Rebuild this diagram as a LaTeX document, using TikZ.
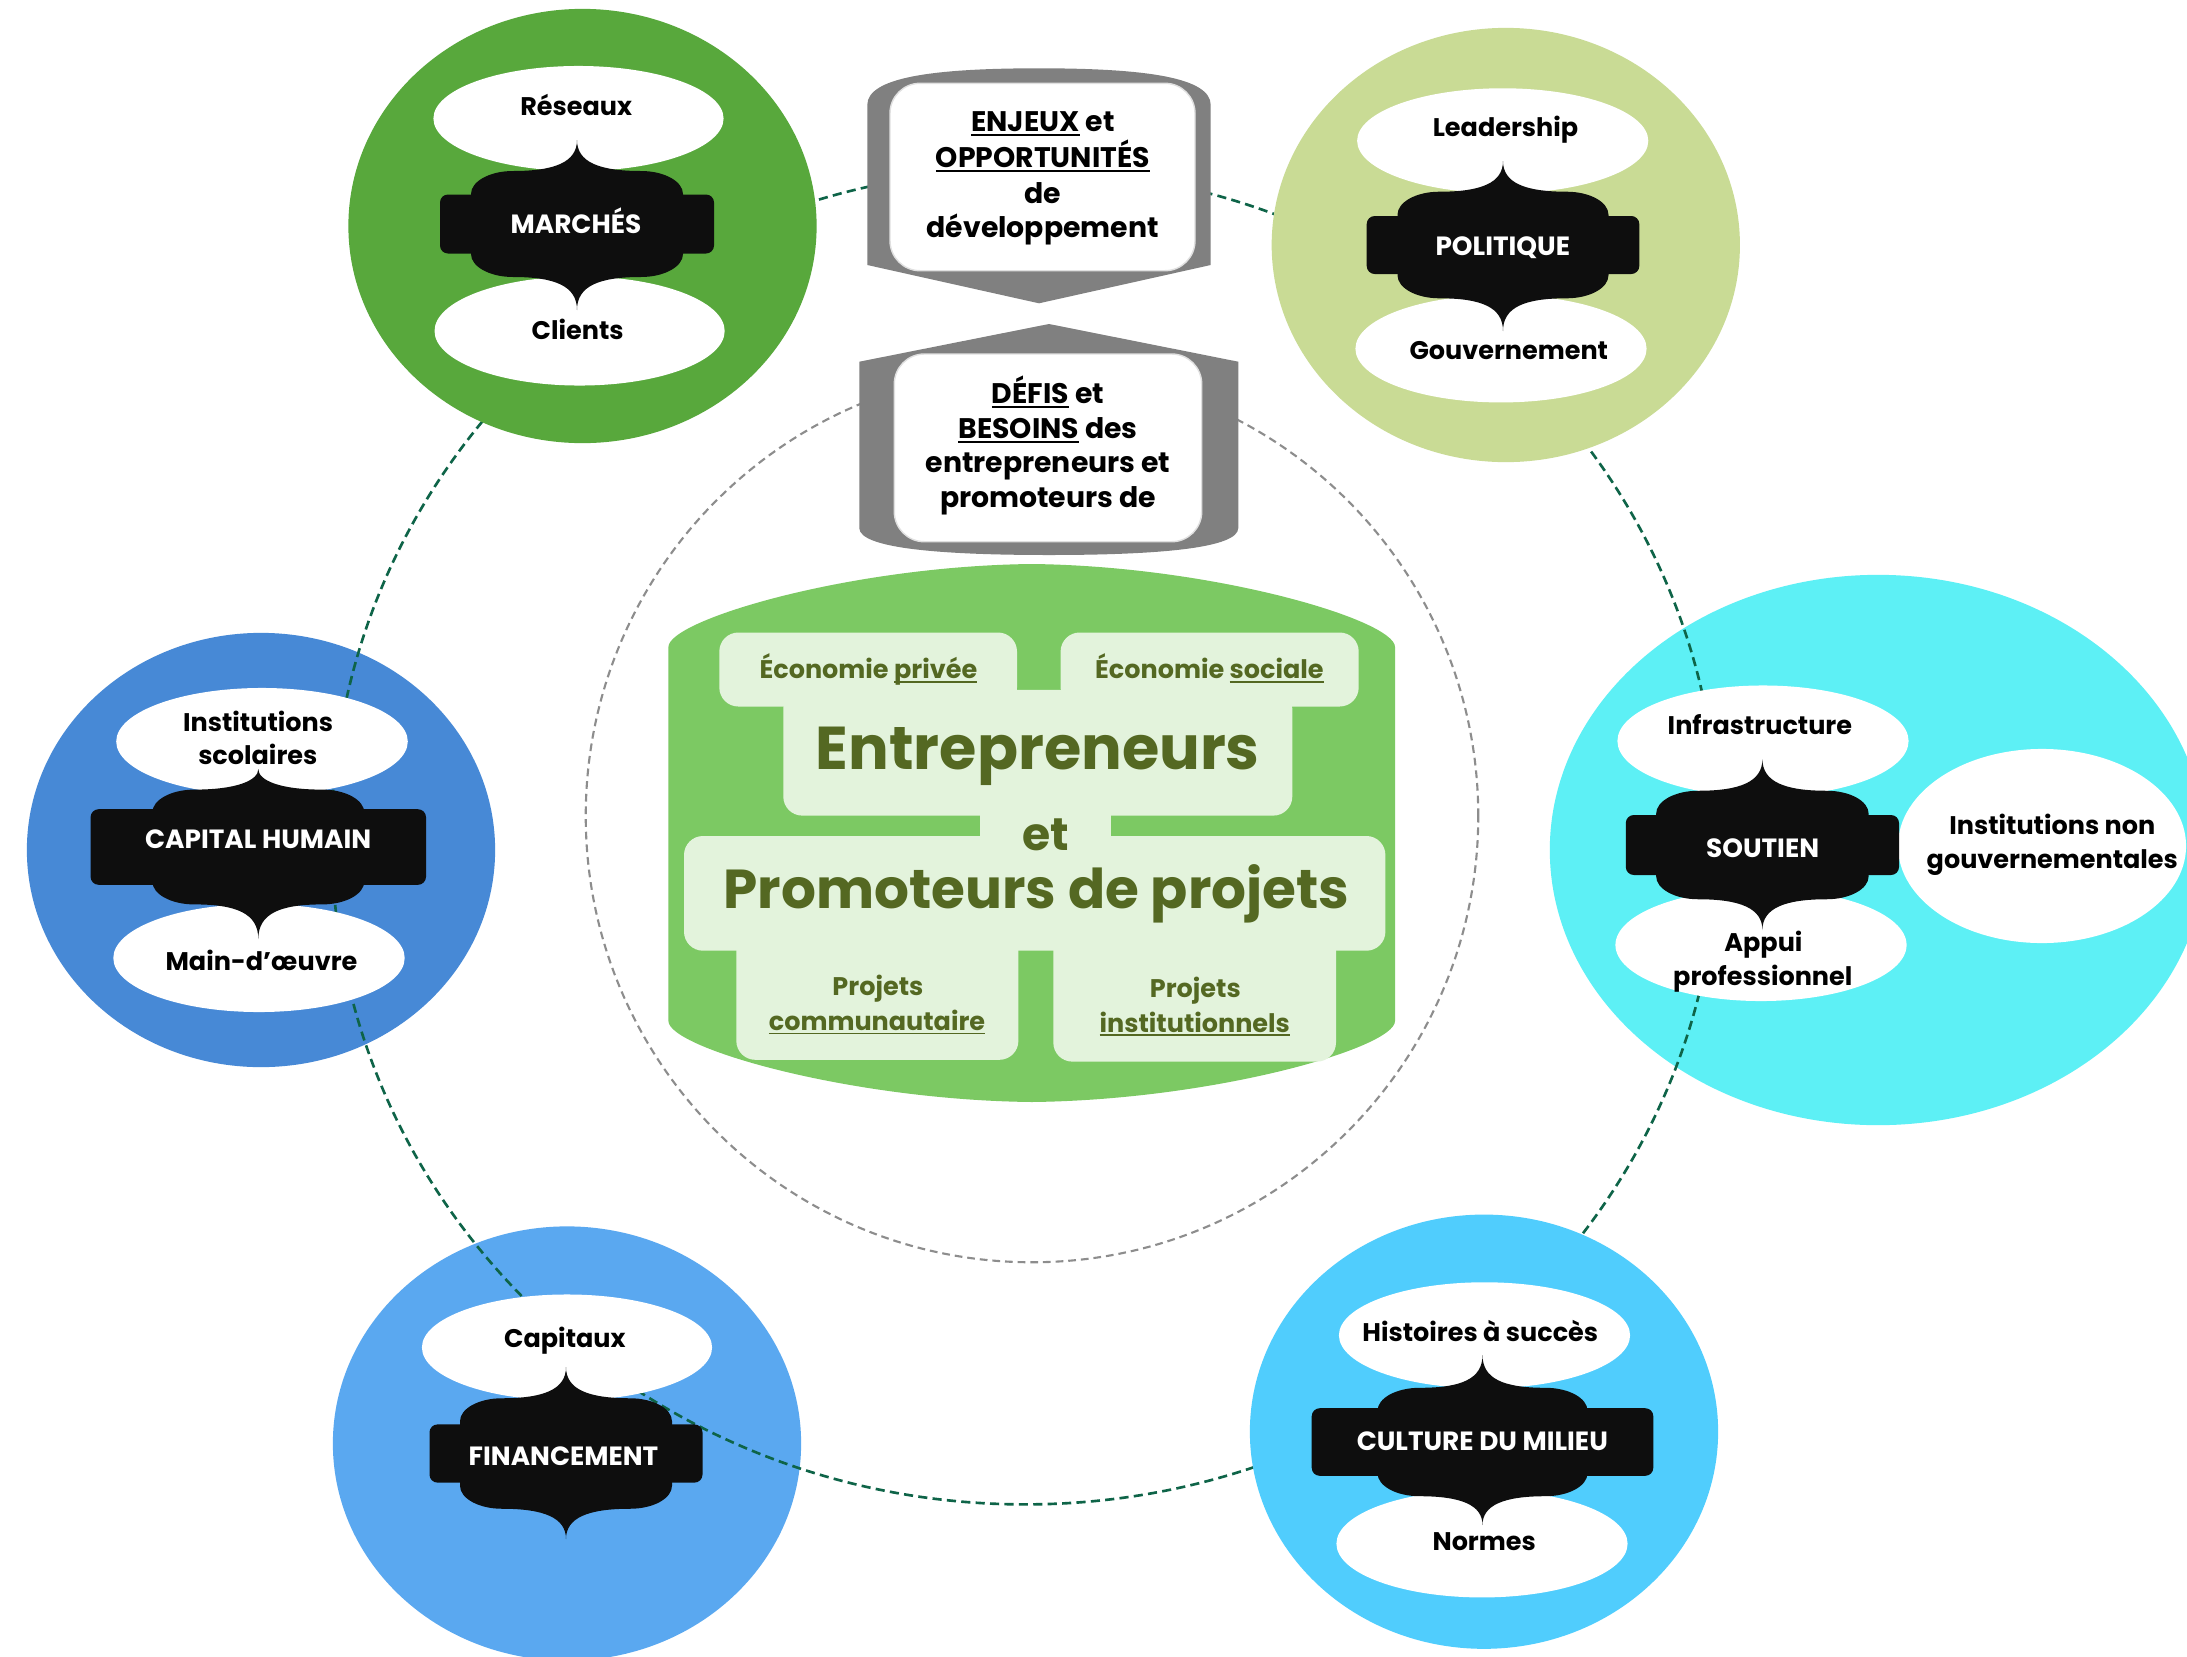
\documentclass[tikz,border=0pt]{standalone}
\usepackage{fontspec}
\setmainfont{Poppins}[UprightFont={* Bold},BoldFont={* Bold}]
\usetikzlibrary{shapes.geometric}
\definecolor{cMarches}{RGB}{88,168,60}
\definecolor{cPolitique}{RGB}{201,219,149}
\definecolor{cCapital}{RGB}{71,137,214}
\definecolor{cSoutien}{RGB}{93,240,245}
\definecolor{cFinance}{RGB}{90,168,240}
\definecolor{cCulture}{RGB}{80,205,253}
\definecolor{cCentre}{RGB}{124,201,99}
\definecolor{cLight}{RGB}{227,243,220}
\definecolor{cBanner}{RGB}{128,128,128}
\definecolor{cInk}{RGB}{14,14,14}
\definecolor{cRing}{RGB}{14,100,72}
\definecolor{cOlive}{RGB}{84,104,34}
\newcommand\fsLab{\fontsize{7.25}{9}\selectfont}
\newcommand\fsInk{\fontsize{7.5}{9}\selectfont}
\newcommand\fsBan{\fontsize{8.05}{10}\selectfont}
\newcommand\fsCen{\fontsize{7.25}{9}\selectfont}
\newcommand\myul[1]{\setbox0=\hbox{#1}\rlap{\rule[-0.16em]{\wd0}{0.065em}}\box0\relax}
% black ogee shape: cx cy bodyhalfw bodyhalfh tabhalfw tabhalfh cusptop cuspbottom
\newcommand\inkshape[8]{%
\begin{scope}[shift={(#1,#2)}]
\fill[cInk, rounded corners=0.08cm] (-#5,-#6) rectangle (#5,#6);
\fill[cInk]
 (-#3,{-(#4-23)})
 .. controls (-#3,{-(#4-23)-12.7}) and ({-#3+42-23.2},-#4) .. ({-#3+42},-#4)
 .. controls ({-#3+42+42},-#4) and (0,{-#4-9}) .. (0,#7)
 .. controls (0,{-#4-9}) and ({#3-42-42},-#4) .. ({#3-42},-#4)
 .. controls ({#3-42+23.2},-#4) and (#3,{-(#4-23)-12.7}) .. (#3,{-(#4-23)})
 -- (#3,{#4-23})
 .. controls (#3,{#4-23+12.7}) and ({#3-42+23.2},#4) .. ({#3-42},#4)
 .. controls ({#3-42-42},#4) and (0,{#4+9}) .. (0,#8)
 .. controls (0,{#4+9}) and ({-#3+42+42},#4) .. ({-#3+42},#4)
 .. controls ({-#3+42-23.2},#4) and (-#3,{#4-23+12.7}) .. (-#3,{#4-23})
 -- cycle;
\end{scope}}
\begin{document}
\begin{tikzpicture}[x=0.01cm,y=-0.01cm,
  bigc/.style={ellipse, inner sep=0pt, outer sep=0pt, draw=none},
  whiteell/.style={ellipse, fill=white, inner sep=0pt, outer sep=0pt, draw=none},
  lab/.style={anchor=base, inner sep=0pt, font=\fsLab, text=black},
  inklab/.style={anchor=base, inner sep=0pt, font=\fsInk, text=white},
  banlab/.style={anchor=base, inner sep=0pt, font=\fsBan, text=black},
  cenlab/.style={anchor=base, inner sep=0pt, font=\fsCen, text=cOlive},
  ringline/.style={draw=cRing, line width=0.75pt, dash pattern=on 2.6pt off 1.5pt},
  grayline/.style={draw=cBanner!90, line width=0.6pt, dash pattern=on 2.2pt off 1.4pt},
  lightbox/.style={fill=cLight, rounded corners=0.19cm}]
\useasboundingbox (0,0) rectangle (2187,1657);
\fill[white] (0,0) rectangle (2187,1657);
\clip (0,0) rectangle (2187,1657);

% inner gray dashed circle
\coordinate (grayc) at (1032,816);
\draw[grayline] (grayc) circle [radius=4.46cm];

% circles lying under the ring
\node[bigc, fill=cCapital, minimum width=4.68cm, minimum height=4.34cm] (ccapital) at (261,850) {};
\node[bigc, fill=cSoutien, minimum width=6.56cm, minimum height=5.50cm] (csoutien) at (1878,850) {};
\node[bigc, fill=cFinance, minimum width=4.68cm, minimum height=4.34cm] (cfinance) at (567,1443.5) {};

% dashed ring linking the themes
\coordinate (ringc) at (1025,837);
\draw[ringline] (ringc) ellipse [x radius=6.93cm, y radius=6.67cm];

% circles lying over the ring
\node[bigc, fill=cMarches, minimum width=4.68cm, minimum height=4.34cm] (cmarches) at (582.5,226) {};
\node[bigc, fill=cPolitique, minimum width=4.68cm, minimum height=4.34cm] (cpolitique) at (1505.8,245) {};
\node[bigc, fill=cCulture, minimum width=4.68cm, minimum height=4.34cm] (cculture) at (1484,1431.7) {};

% gray banners
\fill[cBanner] (867.3,105) .. controls (867.3,78) and (930,68.3) .. (1039,68.3)
  .. controls (1148,68.3) and (1210.7,78) .. (1210.7,105) -- (1210.7,265) -- (1039,303.3) -- (867.3,265) -- cycle;
\filldraw[fill=white, draw=black!12, line width=0.4pt, rounded corners=0.3cm] (890,83.3) rectangle (1195,270.7);
\fill[cBanner] (1049,324) -- (1238.3,361.7) -- (1238.3,528) .. controls (1238.3,548) and (1160,555) .. (1049,555)
  .. controls (938,555) and (859.3,548) .. (859.3,528) -- (859.3,361.7) -- cycle;
\filldraw[fill=white, draw=black!12, line width=0.4pt, rounded corners=0.3cm] (894.3,354) rectangle (1201.7,541.7);

\node[banlab] (enj1) at (1042.8,131.7) {\myul{ENJEUX} et};
\node[banlab] (enj2) at (1042.8,167.3) {\myul{OPPORTUNITÉS}};
\node[banlab] (enj3) at (1042.8,203.3) {de};
\node[banlab] (enj4) at (1042.8,237.3) {développement};
\node[banlab] (def1) at (1048,403.3) {\myul{DÉFIS} et};
\node[banlab] (def2) at (1048,438.3) {\myul{BESOINS} des};
\node[banlab] (def3) at (1048,472.7) {entrepreneurs et};
\node[banlab] (def4) at (1048,507.7) {promoteurs de};

% central green block
\fill[cCentre] (668.4,647) .. controls (668.4,620) and (850,566) .. (1031.7,564)
  .. controls (1213,566) and (1395,620) .. (1395,647) -- (1395,1021)
  .. controls (1395,1048) and (1213,1100) .. (1031.7,1102)
  .. controls (850,1100) and (668.4,1048) .. (668.4,1021) -- cycle;
\fill[lightbox] (719.3,632.5) rectangle (1017,706.5);
\fill[lightbox] (1060.6,632.5) rectangle (1358.7,706.5);
\fill[lightbox] (783.3,689.8) rectangle (1292.3,815.6);
\fill[cLight] (979.6,800) rectangle (1110.5,850);
\fill[lightbox] (684,836) rectangle (1385.4,950.7);
\fill[lightbox] (736.3,930) rectangle (1018.4,1059.8);
\fill[lightbox] (1053.3,930) rectangle (1336,1061.6);

\node[cenlab] (ecopriv) at (868.4,678.7) {Économie \myul{privée}};
\node[cenlab] (ecosoc) at (1209.4,678.7) {Économie \myul{sociale}};
\node[cenlab, font=\fontsize{17.2}{20}\selectfont] (entre) at (1037.8,769.4) {Entrepreneurs};
\node[cenlab, font=\fontsize{13}{16}\selectfont] (et) at (1045.5,850.8) {et};
\node[cenlab, font=\fontsize{15.6}{19}\selectfont] (promo) at (1036.5,908.1) {Promoteurs de projets};
\node[cenlab] (pc1) at (877.9,995.8) {Projets};
\node[cenlab] (pc2) at (877,1030.2) {\myul{communautaire}};
\node[cenlab] (pi1) at (1195.3,997) {Projets};
\node[cenlab] (pi2) at (1194.8,1032) {\myul{institutionnels}};

% white ellipses
\node[whiteell, minimum width=2.90cm, minimum height=1.05cm] (ereseaux) at (578.5,118.5) {};
\node[whiteell, minimum width=2.90cm, minimum height=1.09cm] (eclients) at (579.6,331) {};
\node[whiteell, minimum width=2.91cm, minimum height=1.05cm] (eleader) at (1502.7,140.8) {};
\node[whiteell, minimum width=2.91cm, minimum height=1.074cm] (egouv) at (1501,348.7) {};
\node[whiteell, minimum width=2.914cm, minimum height=1.07cm] (einst) at (262,741.5) {};
\node[whiteell, minimum width=2.912cm, minimum height=1.08cm] (emain) at (259,958) {};
\node[whiteell, minimum width=2.90cm, minimum height=1.06cm] (ecapit) at (567,1347.5) {};
\node[whiteell, minimum width=2.91cm, minimum height=1.11cm] (einfra) at (1763,741) {};
\node[whiteell, minimum width=2.91cm, minimum height=1.12cm] (eappui) at (1761,945) {};
\node[whiteell, minimum width=2.88cm, minimum height=1.94cm] (eong) at (2042,846) {};
\node[whiteell, minimum width=2.91cm, minimum height=1.06cm] (ehist) at (1484.5,1335.3) {};
\node[whiteell, minimum width=2.91cm, minimum height=1.074cm] (enormes) at (1482,1543.7) {};

% black ogee shapes
\inkshape{577}{224}{106}{53}{137}{29.5}{-84}{86}
\inkshape{1503}{245}{105.5}{53.3}{136.3}{29}{-84}{86}
\inkshape{258.3}{847}{106}{57.4}{167.7}{37.8}{-78}{92}
\inkshape{1762.4}{845}{106.25}{54.25}{136.6}{30}{-86}{85}
\inkshape{566}{1453.5}{106}{55.25}{136.5}{29.1}{-86.5}{85.5}
\inkshape{1482.5}{1442}{105}{54.2}{170.8}{33.8}{-87}{83}

% labels
\node[lab] (reseaux) at (576.2,115) {Réseaux};
\node[lab] (clients) at (577.7,339.3) {Clients};
\node[inklab] (marches) at (576,233.9) {MARCHÉS};
\node[lab] (leader) at (1505.5,136.7) {Leadership};
\node[inklab] (politique) at (1502.8,255) {POLITIQUE};
\node[lab] (gouv) at (1508.8,359.3) {Gouvernement};
\node[lab] (inst1) at (258.1,731.1) {Institutions};
\node[lab] (inst2) at (257.8,764.2) {scolaires};
\node[inklab] (capital) at (258.1,848.8) {CAPITAL HUMAIN};
\node[lab] (main) at (261.5,970.5) {Main-d’œuvre};
\node[lab] (capitaux) at (564.9,1347.5) {Capitaux};
\node[inklab] (finance) at (563.5,1465.2) {FINANCEMENT};
\node[lab] (infra) at (1759.9,734.6) {Infrastructure};
\node[inklab] (soutien) at (1762.6,857.8) {SOUTIEN};
\node[lab] (appui1) at (1763.4,951) {Appui};
\node[lab] (appui2) at (1762.8,985.4) {professionnel};
\node[lab] (ong1) at (2052.3,834.5) {Institutions non};
\node[lab] (ong2) at (2052.3,868.9) {gouvernementales};
\node[lab] (hist) at (1480.3,1341.7) {Histoires à succès};
\node[inklab] (culture) at (1482.3,1450.7) {CULTURE DU MILIEU};
\node[lab] (normes) at (1484.2,1550.7) {Normes};
\end{tikzpicture}
\end{document}
